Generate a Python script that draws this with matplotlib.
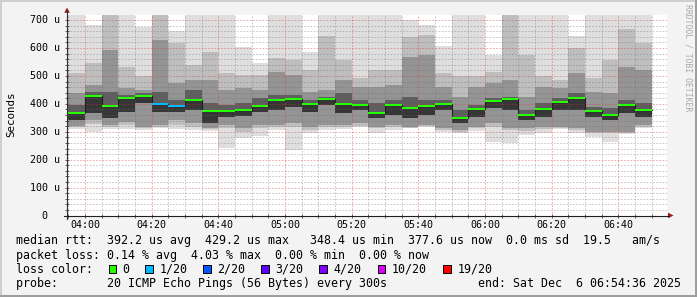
import numpy as np
import matplotlib
matplotlib.use("Agg")
import matplotlib.pyplot as plt
from matplotlib.patches import Rectangle, Polygon
from matplotlib.lines import Line2D
import matplotlib.transforms as mtransforms

W, H = 697, 297

# ---------------- data ----------------
first_bar = "03:55"          # start of first 5-minute bar
step_min = 5
view_start = "03:54:36"
view_end = "06:54:36"

median = [368.5, 427.0, 392.5, 421.0, 429.2, 399.6, 391.0, 412.8, 375.7, 375.7,
          377.0, 391.4, 414.0, 416.4, 398.5, 418.8, 398.5, 395.0, 368.5, 396.0,
          385.3, 391.4, 399.6, 348.4, 381.7, 409.3, 416.4, 360.2, 380.5, 406.8,
          421.0, 375.7, 359.0, 396.0, 377.6]
loss = [0, 0, 0, 0, 0, 1, 1, 0, 0, 0, 0, 0, 0, 0, 0, 0, 0, 0, 0, 0,
        0, 0, 0, 0, 0, 0, 0, 0, 0, 0, 0, 0, 0, 0, 0]

# ping distribution per bar (outermost to innermost, high side)
p_max = [725, 683, 725, 725, 677, 725, 662, 725, 725, 725, 605, 545, 725, 725, 584, 725, 725, 725,
         725, 725, 701, 683, 608, 725, 725, 575, 725, 725, 725, 725, 643, 725, 725, 725, 725]
p_hi2 = [510, 545, 725, 533, 498, 725, 617, 539, 584, 510, 504, 504, 563, 557, 521, 643, 557, 492,
         521, 521, 641, 647, 510, 498, 498, 515, 725, 575, 498, 486, 599, 492, 557, 667, 617]
p_hi3 = [438, 468, 593, 456, 450, 629, 474, 486, 486, 450, 456, 450, 515, 504, 444, 450, 486, 462,
         462, 468, 569, 575, 462, 426, 462, 474, 486, 426, 462, 456, 510, 444, 438, 533, 521]
p_hi4 = [396, 444, 444, 432, 438, 444, 414, 450, 402, 396, 402, 420, 432, 432, 414, 426, 438, 414,
         402, 414, 426, 414, 414, 378, 396, 420, 426, 378, 402, 420, 438, 390, 384, 414, 402]
# low side (innermost to outermost)
p_lo4 = [342, 366, 348, 372, 402, 372, 372, 378, 330, 354, 357, 372, 378, 390, 372, 396, 366, 378,
         348, 360, 348, 360, 378, 330, 354, 384, 378, 342, 354, 378, 378, 354, 342, 366, 354]
p_lo3 = [321, 342, 324, 336, 318, 324, 342, 330, 312, 324, 312, 324, 324, 330, 318, 324, 324, 330,
         318, 324, 318, 324, 312, 306, 318, 330, 312, 312, 318, 318, 312, 300, 300, 300, 324]
p_lo2 = [316, 328, 316, 324, 312, 318, 324, 318, 309, 312, 300, 312, 316, 318, 306, 316, 316, 322,
         312, 318, 315, 321, 306, 300, 312, 318, 306, 304, 309, 312, 306, 294, 294, 297, 318]
p_min = [310, 300, 310, 310, 306, 312, 310, 306, 304, 243, 279, 283, 306, 235, 294, 306, 309, 316,
         294, 306, 312, 316, 300, 294, 304, 265, 259, 289, 297, 309, 297, 280, 265, 292, 312]

x_tick_labels = ["04:00", "04:20", "04:40", "05:00", "05:20", "05:40", "06:00", "06:20", "06:40"]
y_tick_values = [0, 100, 200, 300, 400, 500, 600, 700]
y_tick_labels = ["0", "100 u", "200 u", "300 u", "400 u", "500 u", "600 u", "700 u"]
y_max = 720

loss_labels = ["0", "1/20", "2/20", "3/20", "4/20", "10/20", "19/20"]
loss_colors = ["#26ff00", "#00b8ff", "#0059ff", "#5e00ff", "#7e00ff", "#dd00ff", "#ff0000"]


def to_min(s):
    parts = [float(p) for p in s.split(":")]
    return parts[0] * 60 + parts[1] + (parts[2] / 60 if len(parts) > 2 else 0)


# ---------------- figure ----------------
plt.rcParams["font.family"] = ["DejaVu Sans Mono"]
fig = plt.figure(figsize=(W / 100, H / 100), dpi=100, facecolor="#f3f3f3")

PL, PR, PT, PB = 67, 667, 14.5, 215.5
ax = fig.add_axes([PL / W, 1 - PB / H, (PR - PL) / W, (PB - PT) / H])
ax.set_facecolor("white")
ax.set_xlim(to_min(view_start), to_min(view_end))
ax.set_ylim(0, y_max)
for s in ax.spines.values():
    s.set_visible(False)

n = len(median)
t0 = to_min(first_bar) + step_min * np.arange(n)
med = np.array(median, float)

layers = [(p_min, p_max, "#dedede"), (p_lo2, p_hi2, "#bebebe"),
          (p_lo3, p_hi3, "#949494"), (p_lo4, p_hi4, "#5e5e5e"),
          (p_lo4, median, "#363636")]
for lo, hi, c in layers:
    lo = np.array(lo, float)
    hi = np.array(hi, float)
    ax.bar(t0, hi - lo, bottom=lo, width=step_min, align="edge", color=c,
           linewidth=0, zorder=1)

# grid
minor_c = (0.42, 0.42, 0.42, 0.38)
major_c = (0.85, 0.2, 0.2, 0.42)
dash = (0, (1.6, 1.6))
for y in range(20, y_max, 20):
    ax.axhline(y, color=major_c if y % 100 == 0 else minor_c, lw=0.72, ls=dash, zorder=2)
x_major = [to_min(l) for l in x_tick_labels]
tm = to_min(first_bar)
while tm < to_min(view_end):
    is_major = any(abs(tm - m) < 1e-6 for m in x_major)
    ax.axvline(tm, color=major_c if is_major else minor_c, lw=0.72, ls=dash, zorder=2)
    tm += step_min

# median
xs = np.append(t0, t0[-1] + step_min)
ys = np.append(med, med[-1])
ax.step(xs, ys, where="post", color="#202020", lw=0.8, zorder=3)
band = 2.0 * y_max / (PB - PT)
ax.bar(t0, band, bottom=med - band / 2, width=step_min, align="edge",
       color=[loss_colors[l] for l in loss], linewidth=0, zorder=4)

# ticks
ax.set_xticks(x_major)
ax.set_xticks(np.arange(to_min(first_bar), to_min(view_end), step_min), minor=True)
ax.set_yticks(y_tick_values)
ax.set_yticks(np.arange(0, y_max, 20), minor=True)
ax.tick_params(which="both", direction="inout", length=2.6, width=0.6, color="#404040",
               labelleft=False, labelbottom=False)

# tick labels
ytr = mtransforms.blended_transform_factory(fig.transFigure, ax.transData)
ytr = mtransforms.offset_copy(ytr, fig=fig, x=0, y=-3.4, units="dots")
for v, lab in zip(y_tick_values, y_tick_labels):
    ax.text(44.7 / W, v, lab, transform=ytr, ha="center", va="baseline",
            fontsize=7.2, color="#000000", clip_on=False)
xtr = mtransforms.blended_transform_factory(ax.transData, fig.transFigure)
for m, lab in zip(x_major, x_tick_labels):
    ax.text(m, 1 - 228.3 / H, lab, transform=xtr, ha="center", va="baseline",
            fontsize=7.2, color="#000000", clip_on=False)


# axes lines and arrows (pixel coords)
def fx(x):
    return x / W


def fy(y):
    return 1 - y / H


fig.add_artist(Line2D([fx(PL), fx(PL)], [fy(PB + 3), fy(10)], color="#303030", lw=0.8))
fig.add_artist(Line2D([fx(PL - 3), fx(669)], [fy(PB), fy(PB)], color="#202020", lw=0.8))
fig.add_artist(Polygon([(fx(64.2), fy(12.8)), (fx(69.8), fy(12.8)), (fx(67), fy(7.5))],
                       closed=True, transform=fig.transFigure, facecolor="#9e1b1b", edgecolor="none"))
fig.add_artist(Polygon([(fx(668), fy(212.7)), (fx(668), fy(218.3)), (fx(673.5), fy(215.5))],
                       closed=True, transform=fig.transFigure, facecolor="#9e1b1b", edgecolor="none"))

# labels
fig.text(fx(11), fy(114.5), "Seconds", rotation=90, ha="center", va="center", fontsize=7.8)
fig.text(fx(688), fy(4.5), "RRDTOOL / TOBI OETIKER", rotation=-90, ha="center", va="top",
         fontsize=5.9, color="#a8a8a8")

# legend text
FS = 8.41
base = [244.3, 258.5, 272.6, 286.7]
legend_lines = [
    [("median rtt:  392.2 us avg  429.2 us max   348.4 us min  377.6 us now  0.0 ms sd  19.5   am/s", 16)],
    [("packet loss: 0.14 % avg  4.03 % max  0.00 % min  0.00 % now", 16)],
    [("loss color:", 16)],
    [("probe:       20 ICMP Echo Pings (56 Bytes) every 300s", 16),
     ("end: Sat Dec  6 06:54:36 2025", 478.3)],
]
for b, pieces in zip(base, legend_lines):
    for txt, x in pieces:
        fig.text(fx(x), fy(b), txt, ha="left", va="baseline", fontsize=FS, color="#000000")

loss_x = [122.7, 159.3, 217.3, 275.3, 333.5, 391.7, 457.3]
for lab, col, x in zip(loss_labels, loss_colors, loss_x):
    fig.text(fx(x), fy(base[2]), lab, ha="left", va="baseline", fontsize=FS, color="#000000")
    fig.add_artist(Rectangle((fx(x - 14.2), fy(base[2] + 0.3)), 7.4 / W, 7.6 / H,
                             transform=fig.transFigure, facecolor=col, edgecolor="#000000", lw=0.7))


# frame shading
def prect(x, y, w, h, c):
    fig.add_artist(Rectangle((fx(x), fy(y + h)), w / W, h / H, transform=fig.transFigure,
                             facecolor=c, edgecolor="none"))


prect(0, 0, W, 2, "#cfcfcf")
prect(0, 0, 2, H, "#cfcfcf")
prect(0, H - 2, W, 2, "#9e9e9e")
prect(W - 2, 0, 2, H, "#9e9e9e")

fig.savefig("out.png", dpi=100, facecolor=fig.get_facecolor())
